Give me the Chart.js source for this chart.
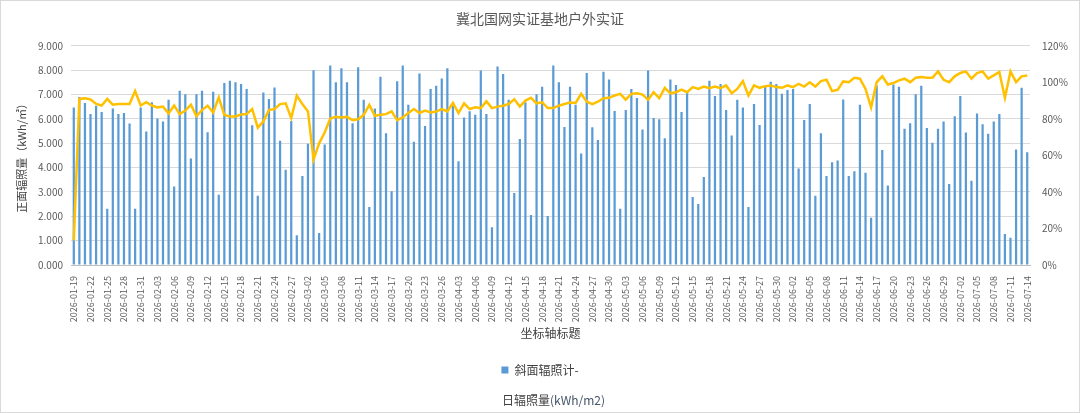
<!DOCTYPE html>
<html>
<head>
<meta charset="utf-8">
<script src="https://cdn.jsdelivr.net/npm/chart.js@4/dist/chart.umd.min.js"></script>
<style>
  html, body { margin: 0; padding: 0; background: #fff; }
  #wrap { width: 1080px; height: 413px; box-sizing: border-box; border: 1px solid #d9d9d9; }
</style>
</head>
<body>
<div id="wrap"><canvas id="chart"></canvas></div>
<script>
// daily dates (03-27..03-31 have no data in the source sheet)
const dates = [
  '2026-01-19','2026-01-20','2026-01-21','2026-01-22','2026-01-23','2026-01-24','2026-01-25','2026-01-26','2026-01-27','2026-01-28','2026-01-29','2026-01-30','2026-01-31',
  '2026-02-01','2026-02-02','2026-02-03','2026-02-04','2026-02-05','2026-02-06','2026-02-07','2026-02-08','2026-02-09','2026-02-10','2026-02-11','2026-02-12','2026-02-13','2026-02-14',
  '2026-02-15','2026-02-16','2026-02-17','2026-02-18','2026-02-19','2026-02-20','2026-02-21','2026-02-22','2026-02-23','2026-02-24','2026-02-25','2026-02-26','2026-02-27','2026-02-28',
  '2026-03-01','2026-03-02','2026-03-03','2026-03-04','2026-03-05','2026-03-06','2026-03-07','2026-03-08','2026-03-09','2026-03-10','2026-03-11','2026-03-12','2026-03-13',
  '2026-03-14','2026-03-15','2026-03-16','2026-03-17','2026-03-18','2026-03-19','2026-03-20','2026-03-21','2026-03-22','2026-03-23','2026-03-24','2026-03-25','2026-03-26',
  '2026-04-01','2026-04-02',
  '2026-04-03','2026-04-04','2026-04-05','2026-04-06','2026-04-07','2026-04-08','2026-04-09','2026-04-10','2026-04-11','2026-04-12','2026-04-13','2026-04-14','2026-04-15','2026-04-16',
  '2026-04-17','2026-04-18','2026-04-19','2026-04-20','2026-04-21','2026-04-22','2026-04-23','2026-04-24','2026-04-25','2026-04-26','2026-04-27','2026-04-28','2026-04-29','2026-04-30',
  '2026-05-01','2026-05-02','2026-05-03','2026-05-04','2026-05-05','2026-05-06','2026-05-07','2026-05-08','2026-05-09','2026-05-10','2026-05-11','2026-05-12','2026-05-13','2026-05-14','2026-05-15','2026-05-16',
  '2026-05-17','2026-05-18','2026-05-19','2026-05-20','2026-05-21','2026-05-22','2026-05-23','2026-05-24','2026-05-25','2026-05-26','2026-05-27','2026-05-28','2026-05-29','2026-05-30','2026-05-31',
  '2026-06-01','2026-06-02','2026-06-03','2026-06-04','2026-06-05','2026-06-06','2026-06-07','2026-06-08','2026-06-09','2026-06-10','2026-06-11','2026-06-12','2026-06-13','2026-06-14','2026-06-15',
  '2026-06-16','2026-06-17','2026-06-18','2026-06-19','2026-06-20','2026-06-21','2026-06-22','2026-06-23','2026-06-24','2026-06-25','2026-06-26','2026-06-27','2026-06-28','2026-06-29','2026-06-30',
  '2026-07-01','2026-07-02','2026-07-03','2026-07-04','2026-07-05','2026-07-06','2026-07-07','2026-07-08','2026-07-09','2026-07-10','2026-07-11','2026-07-12','2026-07-13','2026-07-14'
];

// 斜面辐照计 daily irradiation, kWh/m2
const tiltedIrradiation = [
  6.47, 6.90, 6.65, 6.20, 6.54, 6.28, 2.31, 6.43, 6.20, 6.24, 5.81, 2.31, 6.47,
  5.48, 6.68, 6.02, 5.89, 6.78, 3.22, 7.15, 7.01, 4.37, 7.01, 7.15, 5.45, 7.11, 2.88,
  7.47, 7.57, 7.50, 7.43, 7.23, 5.74, 2.84, 7.08, 6.82, 7.29, 5.10, 3.91, 5.91, 1.22,
  3.65, 4.98, 8.00, 1.31, 4.95, 8.19, 7.50, 8.08, 7.50, 5.82, 8.12, 6.78, 2.38,
  6.43, 7.73, 5.41, 3.03, 7.54, 8.19, 6.58, 5.06, 7.86, 5.71, 7.23, 7.36, 7.66,
  8.08, 6.54,
  4.26, 6.06, 6.31, 6.17, 7.99, 6.20, 1.55, 8.15, 7.84, 6.78, 2.96, 5.17, 6.68, 2.05,
  7.01, 7.32, 2.01, 8.19, 7.50, 5.67, 7.32, 6.58, 4.58, 7.88, 5.66, 5.13, 7.93, 7.62,
  6.32, 2.31, 6.36, 7.23, 6.86, 5.56, 7.99, 6.04, 5.98, 5.20, 7.62, 7.39, 6.28, 7.10, 2.79, 2.50,
  3.61, 7.57, 6.94, 7.43, 6.36, 5.32, 6.78, 6.47, 2.38, 6.61, 5.75, 7.33, 7.52, 7.43, 7.03,
  7.19, 7.23, 3.96, 5.95, 6.61, 2.84, 5.41, 3.65, 4.22, 4.29, 6.80, 3.65, 3.85, 6.58, 3.79,
  1.94, 7.37, 4.72, 3.26, 7.41, 7.32, 5.59, 5.82, 7.01, 7.36, 5.63, 5.02, 5.59, 5.89, 3.33,
  6.11, 6.94, 5.44, 3.46, 6.22, 5.78, 5.39, 5.89, 6.20, 1.27, 1.12, 4.74, 7.28, 4.63
];

// ratio line on the right axis, %
const ratioPct = [
  13.5, 90.9, 91.3, 90.6, 88.2, 87.3, 90.9, 87.8, 88.2, 88.2, 88.2, 95.2, 87.3,
  89.1, 87.3, 86.3, 86.7, 83.0, 87.3, 82.6, 84.5, 87.8, 81.5, 84.8, 87.2, 83.5, 91.8,
  82.1, 81.3, 81.3, 82.4, 82.6, 85.4, 75.2, 78.6, 84.8, 85.4, 88.1, 88.5, 80.4, 92.8,
  88.1, 84.1, 57.7, 66.6, 72.5, 80.2, 81.1, 80.8, 81.1, 79.3, 79.8, 82.2, 87.6,
  81.7, 82.2, 82.6, 84.1, 79.3, 80.8, 83.2, 85.4, 83.2, 84.5, 83.5, 84.0, 85.4,
  84.1, 88.7,
  83.2, 88.5, 85.4, 86.3, 85.9, 89.6, 85.9, 86.7, 87.2, 88.1, 90.7, 86.7, 90.0, 91.5,
  88.5, 89.1, 85.9, 85.9, 87.2, 88.1, 88.9, 88.7, 93.7, 89.4, 88.1, 89.4, 91.3, 91.5,
  92.8, 93.7, 90.5, 93.7, 94.0, 93.3, 90.5, 94.6, 91.3, 97.0, 94.0, 94.6, 96.0, 94.6, 97.4, 96.4,
  97.7, 96.8, 97.7, 96.8, 98.3, 94.0, 96.4, 100.7, 92.8, 98.3, 97.0, 97.9, 98.3, 97.4, 97.0,
  98.3, 97.4, 99.2, 97.7, 100.0, 97.7, 100.7, 101.4, 95.2, 95.9, 100.5, 100.1, 102.5, 102.0, 96.4,
  86.3, 100.1, 103.3, 98.8, 99.6, 101.1, 102.0, 100.1, 102.5, 102.9, 102.5, 102.5, 106.0, 101.4, 100.1,
  103.3, 105.1, 106.0, 102.0, 105.1, 106.0, 102.0, 103.8, 105.7, 91.5, 106.0, 100.1, 103.3, 103.8
];

const leftTicks = [0, 1, 2, 3, 4, 5, 6, 7, 8, 9];
const rightTicks = [0, 20, 40, 60, 80, 100, 120];

const FONT = '"Noto Sans CJK SC", "Noto Sans", sans-serif';
const GREY = '#595959';

// second line of the legend entry, with the unit in blue-grey like the source
const legendLine2 = {
  id: 'legendLine2',
  afterDraw(chart) {
    const ctx = chart.ctx;
    ctx.save();
    ctx.font = '12px ' + FONT;
    ctx.textBaseline = 'middle';
    ctx.textAlign = 'left';
    const a = '日辐照量';
    const b = '(kWh/m2)';
    const wa = ctx.measureText(a).width;
    const x = 501, y = 399;
    ctx.fillStyle = '#404040';
    ctx.fillText(a, x, y);
    ctx.fillStyle = '#44546a';
    ctx.fillText(b, x + wa, y);
    ctx.restore();
  }
};

new Chart(document.getElementById('chart'), {
  type: 'bar',
  data: {
    labels: dates,
    datasets: [
      {
        type: 'line',
        label: 'ratio',
        data: ratioPct,
        yAxisID: 'y1',
        borderColor: '#ffc000',
        borderWidth: 2.5,
        pointRadius: 0,
        tension: 0,
        order: 0
      },
      {
        type: 'bar',
        label: '斜面辐照计-',
        data: tiltedIrradiation,
        yAxisID: 'y',
        backgroundColor: '#5b9bd5',
        barPercentage: 0.4,
        categoryPercentage: 1.0,
        order: 1
      }
    ]
  },
  options: {
    responsive: true,
    maintainAspectRatio: false,
    animation: false,
    layout: { padding: { left: 0, right: 0, top: 0, bottom: 26 } },
    plugins: {
      title: {
        display: true,
        text: '冀北国网实证基地户外实证',
        color: GREY,
        font: { family: FONT, size: 14, weight: 'normal' },
        padding: { top: 9, bottom: 19 }
      },
      legend: {
        position: 'bottom',
        labels: {
          filter: item => item.text !== 'ratio',
          color: '#404040',
          font: { family: FONT, size: 12 },
          boxWidth: 7,
          boxHeight: 7,
          padding: 8
        }
      },
      tooltip: { enabled: false }
    },
    scales: {
      x: {
        afterFit: s => { s.height = 91; },
        grid: { display: false },
        border: { color: '#bfbfbf' },
        ticks: {
          autoSkip: false,
          minRotation: 90,
          maxRotation: 90,
          color: GREY,
          font: { family: FONT, size: 9 },
          padding: 3,
          callback: (v, i) => i % 3 === 0 ? dates[i] : ''
        },
        title: {
          display: true,
          text: '坐标轴标题',
          color: '#404040',
          font: { family: FONT, size: 12 },
          padding: { top: 2, bottom: 15 }
        }
      },
      y: {
        position: 'left',
        min: leftTicks[0],
        max: leftTicks[leftTicks.length - 1],
        afterBuildTicks: axis => { axis.ticks = leftTicks.map(v => ({ value: v })); },
        afterFit: s => { s.width = 70; },
        grid: { color: '#d9d9d9', drawTicks: false },
        border: { display: false },
        ticks: {
          color: GREY,
          font: { family: FONT, size: 10 },
          padding: 8,
          callback: v => Number(v).toFixed(3)
        },
        title: {
          display: true,
          text: '正面辐照量（kWh/㎡）',
          color: '#404040',
          font: { family: FONT, size: 11 },
          padding: { top: 14, bottom: 4 }
        }
      },
      y1: {
        position: 'right',
        min: rightTicks[0],
        max: rightTicks[rightTicks.length - 1],
        afterBuildTicks: axis => { axis.ticks = rightTicks.map(v => ({ value: v })); },
        afterFit: s => { s.width = 49; },
        grid: { drawOnChartArea: false, drawTicks: false },
        border: { display: false },
        ticks: {
          color: GREY,
          font: { family: FONT, size: 10 },
          padding: 12,
          callback: v => v + '%'
        }
      }
    }
  },
  plugins: [legendLine2]
});
</script>
</body>
</html>
